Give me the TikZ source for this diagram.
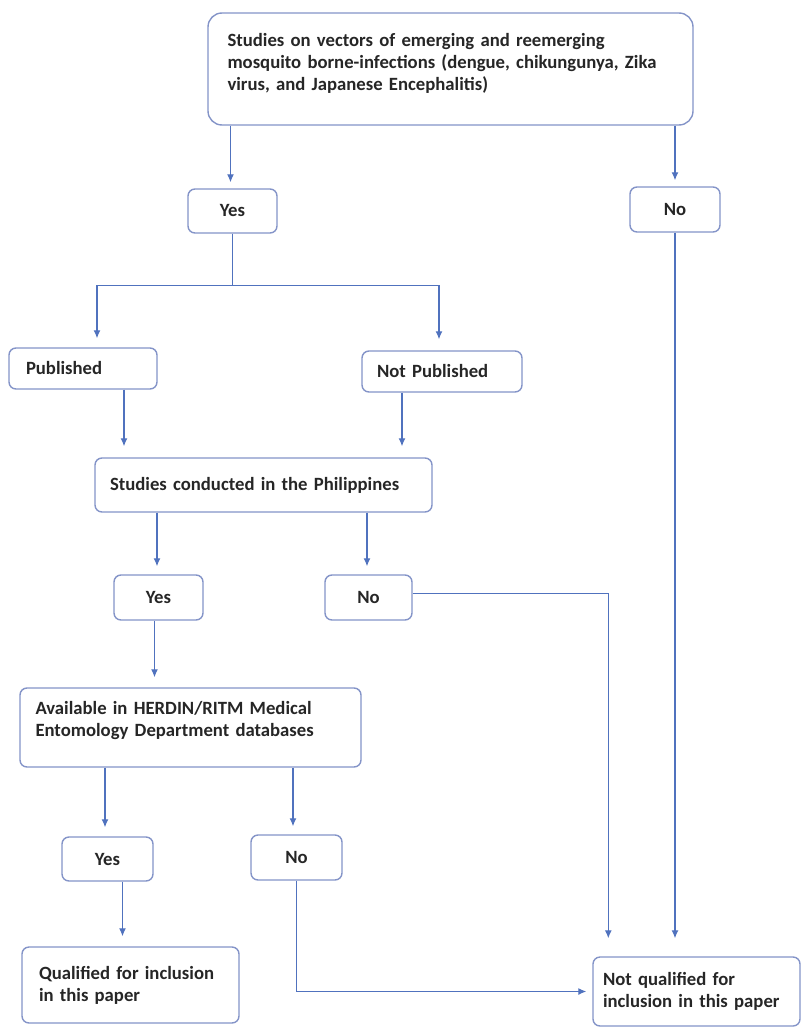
\documentclass[tikz,border=0pt]{standalone}
\usepackage{fontspec}
\setmainfont{Carlito}
\usepackage{xcolor}
\usepackage{tikz}
\usetikzlibrary{arrows.meta, positioning}
\definecolor{edgeblue}{HTML}{8494C8}
\definecolor{lineblue}{HTML}{5072BE}
\definecolor{txtgray}{HTML}{262626}

\begin{document}
\begin{tikzpicture}[
  x=1pt, y=-1pt,
  box/.style ={rectangle, draw=edgeblue, line width=1.4pt, rounded corners=7pt,
               fill=white, text=txtgray, inner ysep=0pt,
               font=\fontsize{18.7}{22}\selectfont\bfseries},
  lbox/.style={box, align=left},
  txt/.style ={inner sep=0pt, align=left, text=txtgray,
               font=\fontsize{18.7}{22}\selectfont\bfseries},
  arr/.style ={-{Latex[length=8pt,width=7pt]}, line width=1.2pt, draw=lineblue}
]
\useasboundingbox (0,0) rectangle (803,1028);
% ---- Top question ----------------------------------------------------------
\node[box, rounded corners=14pt, minimum width=485pt, minimum height=112pt] (topq) at (450.5,69) {};
\node[txt, text width=460pt, below right=21pt and 20pt of topq.north west] (topqtxt)
  {Studies on vectors of emerging and reemerging\\
   mosquito borne-infections (dengue, chikungunya, Zika\\
   virus, and Japanese Encephalitis)};
\node[box, minimum width=89pt, minimum height=44pt] (yes1) at (232.5,211) {Yes};
\node[box, minimum width=90pt, minimum height=45pt] (no1)  at (675,209.5) {No};
% ---- Publication -----------------------------------------------------------
\node[lbox, text width=114pt, inner xsep=17pt, minimum height=41pt] (pub)    at (83,368.5)  {Published};
\node[lbox, text width=130pt, inner xsep=15pt, minimum height=41pt] (notpub) at (442,371.5) {Not Published};
\node[lbox, text width=307pt, inner xsep=15pt, minimum height=54pt] (phil)   at (263.5,485) {Studies conducted in the Philippines};
\node[box, minimum width=89pt, minimum height=45pt] (yes2) at (158.5,597.5) {Yes};
\node[box, minimum width=87pt, minimum height=45pt] (no2)  at (368.5,597.5) {No};
% ---- Databases -------------------------------------------------------------
\node[box, minimum width=341pt, minimum height=79pt] (herdin) at (190.5,727.5) {};
\node[txt, text width=320pt, below right=14pt and 16pt of herdin.north west] (herdintxt)
  {Available in HERDIN/RITM Medical\\ Entomology Department databases};
\node[box, minimum width=91pt, minimum height=44pt] (yes3) at (107.5,859)   {Yes};
\node[box, minimum width=91pt, minimum height=45pt] (no3)  at (296.5,857.5) {No};
% ---- Outcomes --------------------------------------------------------------
\node[lbox, text width=183pt, inner xsep=17pt, minimum height=76pt] (qual)    at (130.5,985)   {Qualified for inclusion\\ in this paper};
\node[lbox, text width=187pt, inner xsep=10pt, minimum height=69pt] (notqual) at (696.5,991.5) {Not qualified for\\ inclusion in this paper};
% ---- Arrows ----------------------------------------------------------------
\draw[arr, shorten >=6pt] ([xshift=-2pt]yes1.north |- topq.south) -- ([xshift=-2pt]yes1.north);
\draw[arr, shorten >=6pt] (no1.north |- topq.south) -- (no1.north);
\draw[arr, shorten >=9pt] (yes1.south) -- ++(0,52) -| ([xshift=14pt]pub.north);
\draw[arr, shorten >=11pt] (yes1.south) -- ++(0,52) -| ([xshift=-3pt]notpub.north);
\draw[arr, shorten >=11pt] ([xshift=41pt]pub.south) -- ([xshift=41pt]pub.south |- phil.north);
\draw[arr, shorten >=11pt] ([xshift=-40pt]notpub.south) -- ([xshift=-40pt]notpub.south |- phil.north);
\draw[arr, shorten >=8pt] ([xshift=-1.5pt]yes2.north |- phil.south) -- ([xshift=-1.5pt]yes2.north);
\draw[arr, shorten >=8pt] ([xshift=-1.5pt]no2.north |- phil.south) -- ([xshift=-1.5pt]no2.north);
\draw[arr, shorten >=10pt] ([xshift=-4pt]yes2.south) -- ([xshift=-4pt]yes2.south |- herdin.north);
\draw[arr, shorten >=18pt] ([yshift=4pt]no2.east) -| ([xshift=16pt]notqual.north west);
\draw[arr, shorten >=18pt] (no1.south) -- (no1.south |- notqual.north);
\draw[arr, shorten >=9pt] ([xshift=-2.5pt]yes3.north |- herdin.south) -- ([xshift=-2.5pt]yes3.north);
\draw[arr, shorten >=8pt] ([xshift=-3.5pt]no3.north |- herdin.south) -- ([xshift=-3.5pt]no3.north);
\draw[arr, shorten >=10pt] ([xshift=15pt]yes3.south) -- ([xshift=15pt]yes3.south |- qual.north);
\draw[arr, shorten >=6pt] (no3.south) |- (notqual.west);
\end{tikzpicture}
\end{document}
